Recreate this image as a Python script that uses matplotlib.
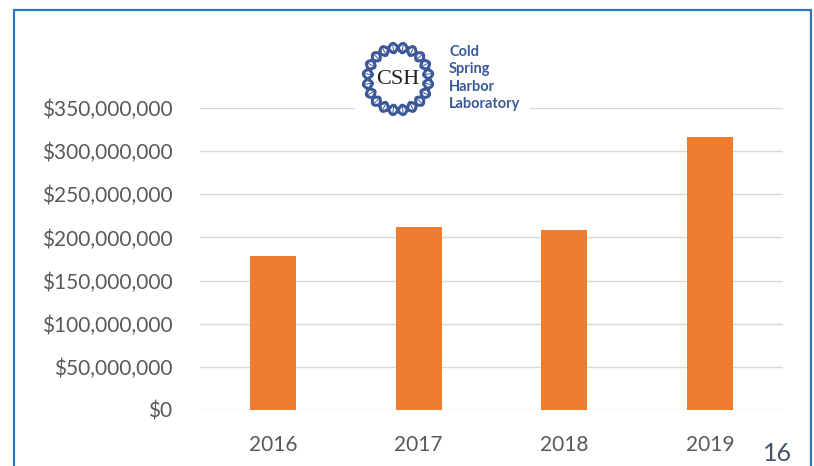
import matplotlib.pyplot as plt
import numpy as np
from matplotlib.patches import Rectangle
from matplotlib.ticker import FuncFormatter

years = ["2016", "2017", "2018", "2019"]
funding = [178_000_000, 212_000_000, 208_500_000, 316_000_000]
y_ticks = [0, 50_000_000, 100_000_000, 150_000_000, 200_000_000,
           250_000_000, 300_000_000, 350_000_000]
logo_words = ["Cold", "Spring", "Harbor", "Laboratory"]

ORANGE, GRID, TICK, FRAME, LOGO = "#ED7D31", "#D9D9D9", "#595959", "#2E75B6", "#3B5998"
W, H = 814, 466

plt.rcParams["font.family"] = ["Lato", "DejaVu Sans"]
fig = plt.figure(figsize=(W / 100, H / 100), dpi=100)

# slide frame
fig.add_artist(Rectangle((14 / W, -0.1), (811 - 14) / W, 1.1 - 10 / H,
                         transform=fig.transFigure, fill=False,
                         edgecolor=FRAME, linewidth=1.6))

ax = fig.add_axes([200 / W, 1 - 410 / H, 583 / W, 302 / H])
x = np.arange(len(years))
ax.bar(x, funding, width=0.315, color=ORANGE, zorder=3)
ax.set_xlim(-0.5, len(years) - 0.5)
ax.set_ylim(0, 350_000_000)
ax.set_yticks(y_ticks)
ax.yaxis.set_major_formatter(FuncFormatter(lambda v, _: f"${v:,.0f}"))
ax.set_xticks(x, years)
ax.grid(axis="y", color=GRID, linewidth=1, zorder=0)
for s in ax.spines.values():
    s.set_visible(False)
ax.tick_params(length=0, colors=TICK, labelsize=15)
ax.tick_params(axis="y", pad=20)
ax.tick_params(axis="x", pad=18)

# logo area (white box hides top gridline)
fig.add_artist(Rectangle((355 / W, 1 - 116 / H), 175 / W, 82 / H,
                         transform=fig.transFigure, facecolor="white",
                         edgecolor="none", zorder=5))
lax = fig.add_axes([359 / W, 1 - 119 / H, 78 / W, 80 / H], zorder=6)
lax.set_xlim(-1.1, 1.1)
lax.set_ylim(-1.1, 1.1)
lax.axis("off")
t = np.linspace(0, 2 * np.pi, 800)
for sgn in (1, -1):
    r = 0.86 + sgn * 0.13 * np.sin(10 * t)
    lax.plot(r * np.cos(t), r * np.sin(t), color=LOGO, linewidth=2.2)
for tr in np.linspace(0, 2 * np.pi, 40, endpoint=False):
    lax.plot([0.78 * np.cos(tr), 0.94 * np.cos(tr)],
             [0.78 * np.sin(tr), 0.94 * np.sin(tr)], color=LOGO, linewidth=0.7)
lax.text(0, -0.02, "CSH", ha="center", va="center", fontsize=16,
         color="#222222", family=["Liberation Serif"])

for i, word in enumerate(logo_words):
    fig.text(449 / W, 1 - (52 + i * 17.3) / H, word, ha="left", va="center",
             fontsize=10.5, color=LOGO, fontweight="bold", zorder=7)

fig.text(778 / W, 1 / H, "16", ha="center", va="bottom",
         fontsize=18, color="#44546A")

fig.savefig("out.png", dpi=100)
